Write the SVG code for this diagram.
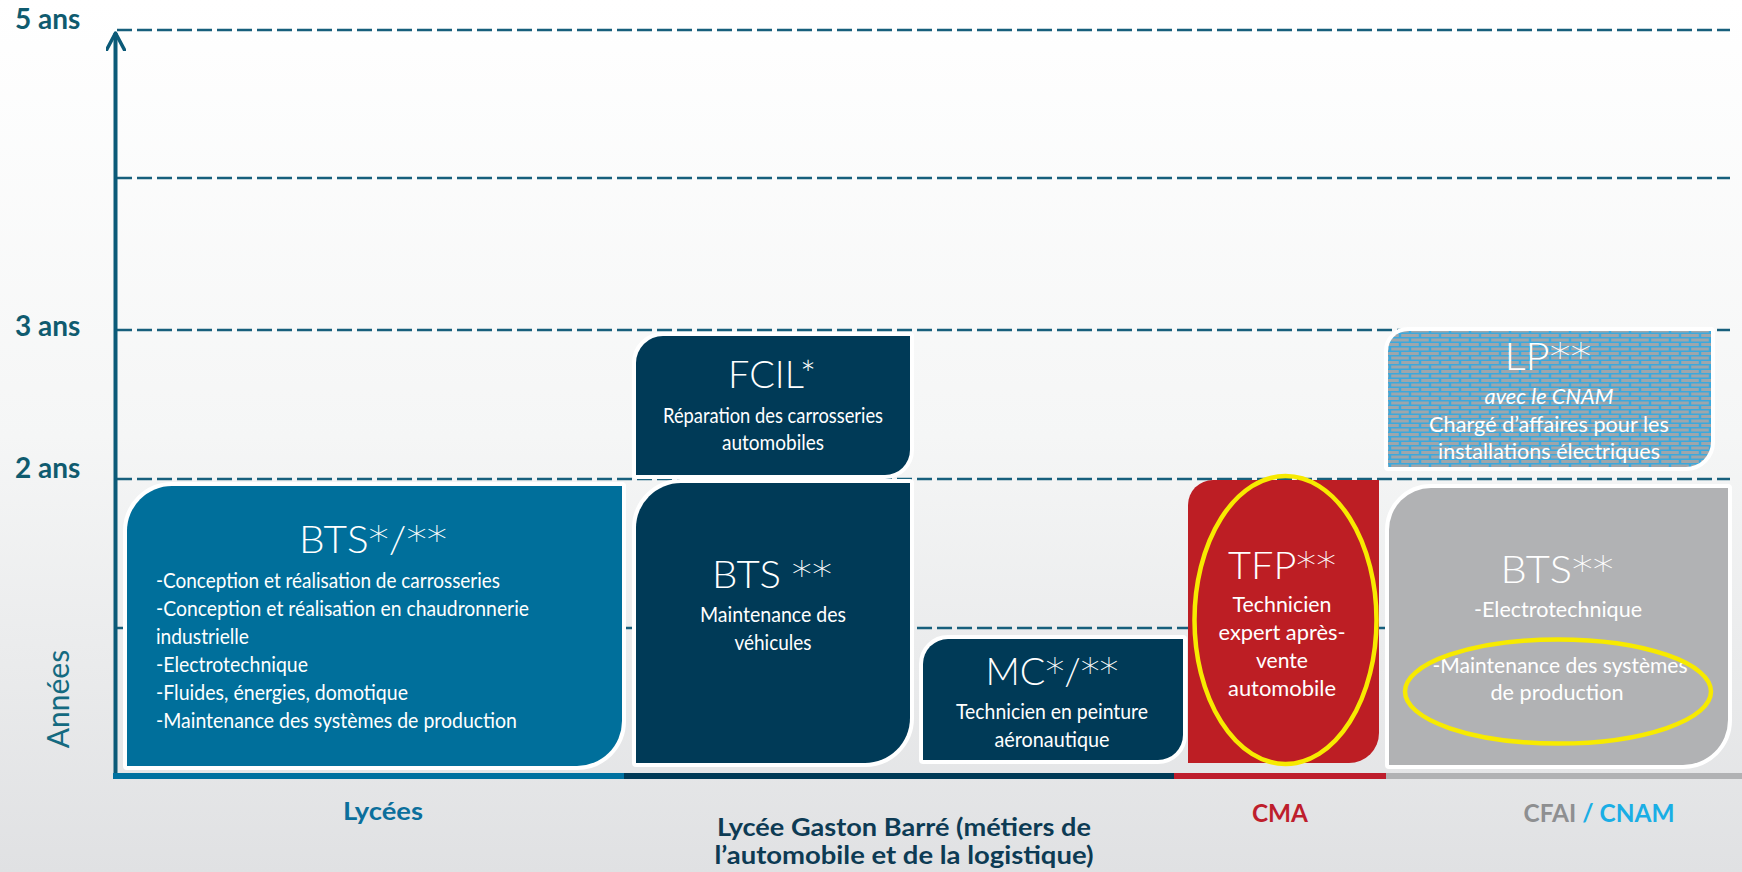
<svg xmlns="http://www.w3.org/2000/svg" width="1742" height="872" viewBox="0 0 1742 872">
<defs>
<linearGradient id="bg" x1="0" y1="0" x2="0" y2="1">
<stop offset="0" stop-color="#ffffff"/>
<stop offset="0.5" stop-color="#f5f6f6"/>
<stop offset="1" stop-color="#e0e1e3"/>
</linearGradient>
<pattern id="brick" width="20" height="9" patternUnits="userSpaceOnUse">
<rect width="20" height="9" fill="#3aa9de"/>
<rect x="1.2" y="1" width="17.6" height="3" fill="#9fa6ab"/>
<rect x="-8.8" y="5.5" width="17.6" height="3" fill="#9fa6ab"/>
<rect x="11.2" y="5.5" width="17.6" height="3" fill="#9fa6ab"/>
</pattern>
<marker id="arr" viewBox="0 0 20 20" refX="18" refY="10" markerWidth="20" markerHeight="20" markerUnits="userSpaceOnUse" orient="auto">
<path d="M1,1 L18,10 L1,19" fill="none" stroke="#0b5a78" stroke-width="3.5" stroke-linecap="round" stroke-linejoin="round"/>
</marker>
<style>
.box{stroke:#fff;stroke-width:8;paint-order:stroke;stroke-linejoin:round}
.t{font-family:Lato,"Open Sans","Liberation Sans",sans-serif;fill:#fff;text-anchor:middle}
.l{text-anchor:start}
.ti{font-size:37px;font-weight:300}
.ast{font-family:"DejaVu Sans",sans-serif}
.bd{font-size:21px}
.dash{stroke:#175f7c;stroke-width:2.5;stroke-dasharray:15 5;fill:none}
.yl{font-family:Lato,"Open Sans","Liberation Sans",sans-serif;font-weight:700;font-size:28px;fill:#0f5b6f}
.xl{font-family:Lato,"Open Sans","Liberation Sans",sans-serif;font-weight:700;font-size:25px;text-anchor:middle}
.ell{fill:none;stroke:#f7ea00;stroke-width:4.5}
</style>
</defs>
<rect width="1742" height="872" fill="url(#bg)"/>

<g id="grid">
<line class="dash" x1="117" y1="30" x2="1730" y2="30"/>
<line class="dash" x1="117" y1="178" x2="1730" y2="178"/>
<line class="dash" x1="117" y1="330" x2="1730" y2="330"/>
<line class="dash" x1="117" y1="479" x2="1730" y2="479"/>
<line class="dash" x1="117" y1="628" x2="1730" y2="628"/>
<text class="yl" x="15" y="29">5 ans</text>
<text class="yl" x="15" y="336">3 ans</text>
<text class="yl" x="15" y="478">2 ans</text>
<text x="0" y="0" transform="translate(69,699) rotate(-90)" font-family="Lato, 'Open Sans', sans-serif" font-size="30" fill="#146a80" text-anchor="middle">Années</text>
</g>

<g id="connectors">
<line x1="115.5" y1="779" x2="115.5" y2="33" stroke="#0b5a78" stroke-width="4" marker-end="url(#arr)"/>
<rect x="113" y="773" width="511" height="6" fill="#0071a0"/>
<rect x="624" y="773" width="550" height="6" fill="#003a57"/>
<rect x="1174" y="773" width="212" height="6" fill="#be1e2d"/>
<rect x="1386" y="773" width="356" height="6" fill="#b1b2b4"/>
</g>

<g id="node-bts-lycees">
<path class="box" fill="#006f9b" d="M127,531 A45,45 0 0 1 172,486 H622 V721 A45,45 0 0 1 577,766 H127 Z"/>
<text class="t ti" x="373" y="553" textLength="148" lengthAdjust="spacingAndGlyphs">BTS<tspan class="ast">*</tspan>/<tspan class="ast">**</tspan></text>
<text class="t bd l" x="156" y="588" textLength="344" lengthAdjust="spacingAndGlyphs">-Conception et réalisation de carrosseries</text>
<text class="t bd l" x="156" y="616" textLength="373" lengthAdjust="spacingAndGlyphs">-Conception et réalisation en chaudronnerie</text>
<text class="t bd l" x="156" y="644" textLength="93" lengthAdjust="spacingAndGlyphs">industrielle</text>
<text class="t bd l" x="156" y="672" textLength="152" lengthAdjust="spacingAndGlyphs">-Electrotechnique</text>
<text class="t bd l" x="156" y="700" textLength="252" lengthAdjust="spacingAndGlyphs">-Fluides, énergies, domotique</text>
<text class="t bd l" x="156" y="728" textLength="361" lengthAdjust="spacingAndGlyphs">-Maintenance des systèmes de production</text>
</g>

<g id="node-fcil">
<path class="box" fill="#003a57" d="M636,363 A27,27 0 0 1 663,336 H910 V450 A25,25 0 0 1 885,475 H636 Z"/>
<text class="t ti" x="772" y="388" textLength="88" lengthAdjust="spacingAndGlyphs">FCIL*</text>
<text class="t bd" x="773" y="423" textLength="220" lengthAdjust="spacingAndGlyphs">Réparation des carrosseries</text>
<text class="t bd" x="773" y="450" textLength="102" lengthAdjust="spacingAndGlyphs">automobiles</text>
</g>

<g id="node-bts-vehicules">
<path class="box" fill="#003a57" d="M636,528 A45,45 0 0 1 681,483 H910 V718 A45,45 0 0 1 865,763 H636 Z"/>
<text class="t ti" x="772" y="588" textLength="120" lengthAdjust="spacingAndGlyphs">BTS <tspan class="ast">**</tspan></text>
<text class="t bd" x="773" y="622" textLength="146" lengthAdjust="spacingAndGlyphs">Maintenance des</text>
<text class="t bd" x="773" y="650" textLength="77" lengthAdjust="spacingAndGlyphs">véhicules</text>
</g>

<g id="node-mc">
<path class="box" fill="#003a57" d="M923,664 A25,25 0 0 1 948,639 H1183 V735 A25,25 0 0 1 1158,760 H923 Z"/>
<text class="t ti" x="1052" y="685" textLength="133" lengthAdjust="spacingAndGlyphs">MC<tspan class="ast">*</tspan>/<tspan class="ast">**</tspan></text>
<text class="t bd" x="1052" y="719" textLength="192" lengthAdjust="spacingAndGlyphs">Technicien en peinture</text>
<text class="t bd" x="1052" y="747" textLength="115" lengthAdjust="spacingAndGlyphs">aéronautique</text>
</g>

<g id="node-tfp">
<path fill="#bd1e24" d="M1188,505 A25,25 0 0 1 1213,480 H1379 V733 A30,30 0 0 1 1349,763 H1188 Z"/>
<text class="t ti" x="1282" y="579" textLength="108" lengthAdjust="spacingAndGlyphs">TFP<tspan class="ast">**</tspan></text>
<text class="t bd" x="1282" y="612" textLength="99" lengthAdjust="spacingAndGlyphs">Technicien</text>
<text class="t bd" x="1282" y="640" textLength="127" lengthAdjust="spacingAndGlyphs">expert après-</text>
<text class="t bd" x="1282" y="668" textLength="52" lengthAdjust="spacingAndGlyphs">vente</text>
<text class="t bd" x="1282" y="696" textLength="108" lengthAdjust="spacingAndGlyphs">automobile</text>
<ellipse class="ell" cx="1285.5" cy="620" rx="91" ry="144"/>
</g>

<g id="node-lp">
<path class="box" fill="url(#brick)" d="M1388,351 A20,20 0 0 1 1408,331 H1711 V442 A25,25 0 0 1 1686,467 H1388 Z"/>
<text class="t ti" x="1548" y="370" font-size="39" textLength="87" lengthAdjust="spacingAndGlyphs">LP<tspan class="ast">**</tspan></text>
<text class="t bd" x="1549" y="404" font-style="italic" textLength="129" lengthAdjust="spacingAndGlyphs">avec le CNAM</text>
<text class="t bd" x="1549" y="432" textLength="240" lengthAdjust="spacingAndGlyphs">Chargé d’affaires pour les</text>
<text class="t bd" x="1549" y="459" textLength="222" lengthAdjust="spacingAndGlyphs">installations électriques</text>
</g>

<g id="node-bts-cfai">
<path class="box" fill="#b1b2b4" d="M1389,530 A42,42 0 0 1 1431,488 H1728 V720 A45,45 0 0 1 1683,765 H1389 Z"/>
<text class="t ti" x="1557" y="583" font-size="39" textLength="113" lengthAdjust="spacingAndGlyphs">BTS<tspan class="ast">**</tspan></text>
<text class="t bd" x="1558" y="617" textLength="168" lengthAdjust="spacingAndGlyphs">-Electrotechnique</text>
<text class="t bd" x="1560" y="673" textLength="255" lengthAdjust="spacingAndGlyphs">-Maintenance des systèmes</text>
<text class="t bd" x="1557" y="700" textLength="133" lengthAdjust="spacingAndGlyphs">de production</text>
<ellipse class="ell" cx="1558" cy="691.5" rx="153" ry="52"/>
</g>

<g id="labels">
<text class="xl" x="383" y="820" fill="#0b6f9c" textLength="80" lengthAdjust="spacingAndGlyphs">Lycées</text>
<text class="xl" x="904" y="836" fill="#0d3b54" textLength="374" lengthAdjust="spacingAndGlyphs">Lycée Gaston Barré (métiers de</text>
<text class="xl" x="904" y="864" fill="#0d3b54" textLength="379" lengthAdjust="spacingAndGlyphs">l’automobile et de la logistique)</text>
<text class="xl" x="1280" y="822" fill="#be1e2d" textLength="56" lengthAdjust="spacingAndGlyphs">CMA</text>
<text class="xl" x="1599" y="822" textLength="151" lengthAdjust="spacingAndGlyphs"><tspan fill="#8e8f91">CFAI </tspan><tspan fill="#1aaee5">/ CNAM</tspan></text>
</g>
</svg>
